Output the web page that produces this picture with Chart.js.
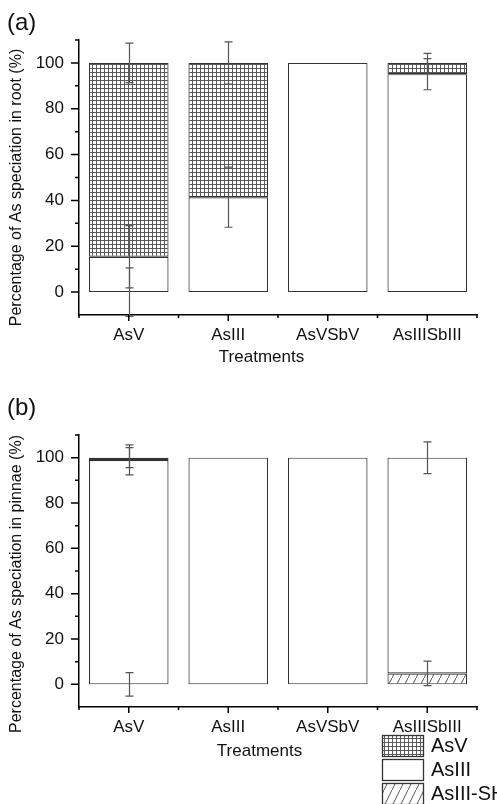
<!DOCTYPE html>
<html>
<head>
<meta charset="utf-8">
<script src="https://cdn.jsdelivr.net/npm/chart.js@4.4.1/dist/chart.umd.min.js"></script>
<style>
    body { margin: 0; background: #fff; }
    #contenedor { position: relative; width: 497px; height: 804px; overflow: hidden; background: #fff; }
    #grafico__raiz { position: absolute; left: 0; top: 0; }
    #grafico__pinnae { position: absolute; left: 0; top: 390px; }
</style>
</head>
<body>
<div id="contenedor">
    <canvas id="grafico__raiz" width="497" height="390"></canvas>
    <canvas id="grafico__pinnae" width="497" height="414"></canvas>
</div>
<script>
var tratamientos = ['AsV', 'AsIII', 'AsVSbV', 'AsIIISbIII'];
var especies = ['AsV', 'AsIII', 'AsIII-SH'];
var yTicks = [0, 20, 40, 60, 80, 100];

// (a) root
var raizAsIIISH = [0, 0, 0, 0];
var raizAsIII = [15.4, 41.4, 100, 95.1];
var raizAsV = [84.6, 58.6, 0, 4.9];
var raizErrAsIIISH = [10.6, 0, 0, 0];
var raizErrAsIII = [13.6, 13.1, 0, 6.8];
var raizErrAsV = [8.6, 9.2, 0, 4.2];

// (b) pinnae
var pinnaeAsIIISH = [0, 0, 0, 4.8];
var pinnaeAsIII = [99, 100, 100, 95.2];
var pinnaeAsV = [1, 0, 0, 0];
var pinnaeErrAsIIISH = [5.2, 0, 0, 5.4];
var pinnaeErrAsIII = [6.6, 0, 0, 7];
var pinnaeErrAsV = [4.4, 0, 0, 0];

var fuente = '"Liberation Sans", Arial, sans-serif';
var colorBorde = '#333';

function patronCuadros(ctx) {
    var c = document.createElement('canvas');
    c.width = 4; c.height = 4;
    var t = c.getContext('2d');
    t.fillStyle = '#fff'; t.fillRect(0, 0, 4, 4);
    t.fillStyle = '#5a5a5a';
    t.fillRect(0, 0, 4, 1);
    t.fillRect(0, 0, 1, 4);
    return ctx.createPattern(c, 'repeat');
}

function patronRayas(ctx) {
    var c = document.createElement('canvas');
    c.width = 8; c.height = 16;
    var t = c.getContext('2d');
    t.fillStyle = '#fff'; t.fillRect(0, 0, 8, 16);
    t.strokeStyle = '#555'; t.lineWidth = 1;
    t.beginPath();
    t.moveTo(-1, 18); t.lineTo(9, -2);
    t.stroke();
    return ctx.createPattern(c, 'repeat');
}

var barrasError = {
    id: 'barrasError',
    afterDatasetsDraw(chart) {
        var ctx = chart.ctx, x = chart.scales.x, y = chart.scales.y;
        ctx.save();
        ctx.strokeStyle = '#555';
        ctx.lineWidth = 1.2;
        tratamientos.forEach((t, j) => {
            var base = 0;
            chart.data.datasets.forEach(ds => {
                base += ds.data[j];
                var e = ds.errores[j];
                if (!e) return;
                var px = Math.round(x.getPixelForValue(j)) + 0.5;
                var y1 = y.getPixelForValue(base + e);
                var y2 = y.getPixelForValue(base - e);
                ctx.beginPath();
                ctx.moveTo(px, y1); ctx.lineTo(px, y2);
                ctx.moveTo(px - 4, y1); ctx.lineTo(px + 4, y1);
                ctx.moveTo(px - 4, y2); ctx.lineTo(px + 4, y2);
                ctx.stroke();
            });
        });
        ctx.restore();
    }
};

var decoracion = {
    id: 'decoracion',
    afterDraw(chart, args, opts) {
        var ctx = chart.ctx, x = chart.scales.x, y = chart.scales.y, a = chart.chartArea;
        ctx.save();
        // ticks mayores y menores
        ctx.strokeStyle = '#000';
        ctx.lineWidth = 1.5;
        ctx.beginPath();
        for (var v = 0; v <= 110; v += 10) {
            var py = y.getPixelForValue(v);
            var largo = yTicks.includes(v) ? 8 : 4;
            ctx.moveTo(a.left, py); ctx.lineTo(a.left - largo, py);
        }
        var mitad = (x.getPixelForValue(1) - x.getPixelForValue(0)) / 2;
        tratamientos.forEach((t, j) => {
            var px = x.getPixelForValue(j);
            ctx.moveTo(px, a.bottom); ctx.lineTo(px, a.bottom + 6);
            ctx.moveTo(px - mitad, a.bottom); ctx.lineTo(px - mitad, a.bottom + 3);
        });
        ctx.moveTo(a.right, a.bottom); ctx.lineTo(a.right, a.bottom + 3);
        ctx.stroke();

        ctx.fillStyle = '#111';
        ctx.font = '24px ' + fuente;
        ctx.textAlign = 'left';
        ctx.textBaseline = 'alphabetic';
        ctx.fillText(opts.letra, 7, opts.letraY);

        ctx.font = '17px ' + fuente;
        ctx.textAlign = 'center';
        ctx.textBaseline = 'middle';
        ctx.fillText('Treatments', opts.tituloX, a.bottom + opts.tituloXdy);

        ctx.save();
        ctx.translate(17, opts.tituloYc);
        ctx.rotate(-Math.PI / 2);
        ctx.font = '16px ' + fuente;
        ctx.fillText(opts.tituloY, 0, 0);
        ctx.restore();

        if (opts.leyenda) {
            var rellenos = [chart.$cuadros, '#fff', chart.$rayas];
            especies.forEach((nombre, i) => {
                var top = opts.leyendaY + i * 24;
                ctx.fillStyle = rellenos[i];
                ctx.fillRect(382, top, 42, 22);
                ctx.strokeStyle = colorBorde;
                ctx.lineWidth = 1.3;
                ctx.strokeRect(382.5, top + 0.5, 41, 21);
                ctx.fillStyle = '#111';
                ctx.font = '20px ' + fuente;
                ctx.textAlign = 'left';
                ctx.textBaseline = 'middle';
                ctx.fillText(nombre, 431, top + 11);
            });
        }
        ctx.restore();
    }
};

function crearGrafico(id, sh, as3, as5, errSh, errAs3, errAs5, arriba, altoX, extra) {
    var ctx = document.getElementById(id).getContext('2d');
    var cuadros = patronCuadros(ctx);
    var rayas = patronRayas(ctx);
    var grafico = new Chart(ctx, {
        type: 'bar',
        data: {
            labels: tratamientos,
            datasets: [
                { label: 'AsIII-SH', data: sh, errores: errSh, backgroundColor: rayas },
                { label: 'AsIII', data: as3, errores: errAs3, backgroundColor: '#fff' },
                { label: 'AsV', data: as5, errores: errAs5, backgroundColor: cuadros }
            ].map(ds => Object.assign(ds, {
                borderColor: colorBorde,
                borderWidth: 1.2,
                borderSkipped: false,
                barPercentage: 0.8,
                categoryPercentage: 1
            }))
        },
        options: {
            responsive: false,
            animation: false,
            events: [],
            layout: { padding: { top: arriba, right: 20, left: 0, bottom: 0 } },
            plugins: {
                legend: { display: false },
                tooltip: { enabled: false },
                decoracion: extra
            },
            scales: {
                x: {
                    stacked: true,
                    offset: true,
                    grid: { display: false, drawTicks: false },
                    border: { display: true, color: '#000', width: 1.5 },
                    ticks: {
                        color: '#111',
                        font: { family: fuente, size: 17 },
                        padding: 10,
                        maxRotation: 0,
                        autoSkip: false
                    },
                    afterFit: s => { s.height = altoX; }
                },
                y: {
                    stacked: true,
                    min: -10,
                    max: 110,
                    grid: { display: false, drawTicks: false },
                    border: { display: true, color: '#000', width: 1.5 },
                    ticks: {
                        stepSize: 10,
                        autoSkip: false,
                        color: '#111',
                        font: { family: fuente, size: 17 },
                        padding: 15,
                        callback: v => yTicks.includes(v) ? v : ''
                    },
                    afterFit: s => { s.width = 79; }
                }
            }
        },
        plugins: [barrasError, decoracion]
    });
    grafico.$cuadros = cuadros;
    grafico.$rayas = rayas;
    grafico.update();
    return grafico;
}

var raizChart = crearGrafico('grafico__raiz',
    raizAsIIISH, raizAsIII, raizAsV,
    raizErrAsIIISH, raizErrAsIII, raizErrAsV,
    40, 75,
    { letra: '(a)', letraY: 30, tituloX: 261.5, tituloXdy: 42, tituloYc: 187.5,
      tituloY: 'Percentage of As speciation in root (%)', leyenda: false });

var pinnaeChart = crearGrafico('grafico__pinnae',
    pinnaeAsIIISH, pinnaeAsIII, pinnaeAsV,
    pinnaeErrAsIIISH, pinnaeErrAsIII, pinnaeErrAsV,
    45, 97,
    { letra: '(b)', letraY: 25, tituloX: 259.5, tituloXdy: 44, tituloYc: 194,
      tituloY: 'Percentage of As speciation in pinnae (%)', leyenda: true, leyendaY: 345 });
</script>
</body>
</html>
